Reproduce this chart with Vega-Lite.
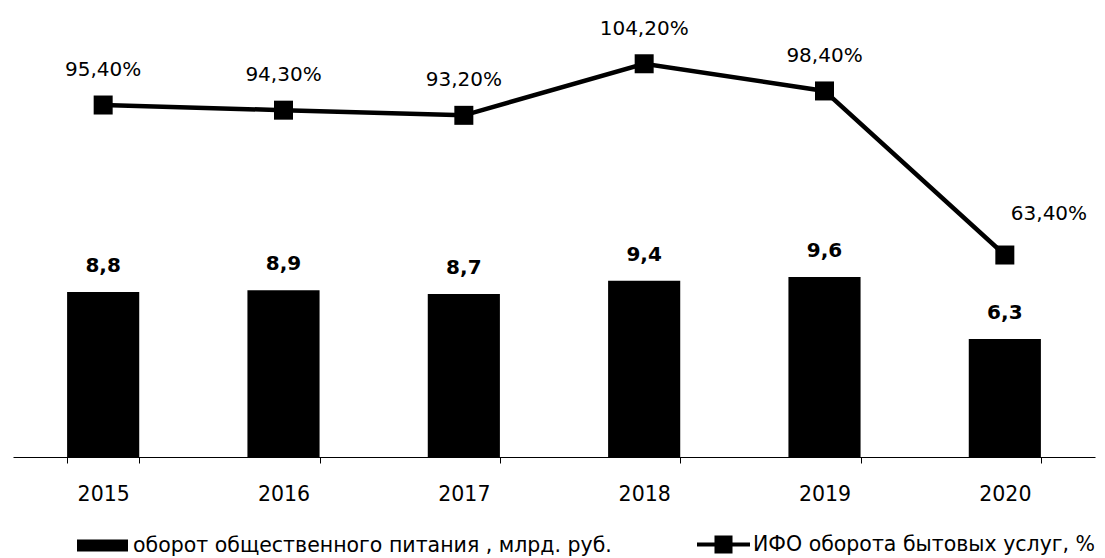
{
  "$schema": "https://vega.github.io/schema/vega-lite/v6.json",
  "width": 1082,
  "height": 447,
  "autosize": "none",
  "padding": {"left": 13, "top": 10, "right": 10, "bottom": 101},
  "background": "white",
  "config": {
    "view": {"stroke": null},
    "font": "DejaVu Sans",
    "locale": {
      "number": {"decimal": ",", "thousands": " ", "grouping": [3], "currency": ["", " ₽"]}
    }
  },
  "data": {
    "values": [
      {"year": "2015", "turnover": 8.8, "ifo": 0.954},
      {"year": "2016", "turnover": 8.9, "ifo": 0.943},
      {"year": "2017", "turnover": 8.7, "ifo": 0.932},
      {"year": "2018", "turnover": 9.4, "ifo": 1.042},
      {"year": "2019", "turnover": 9.6, "ifo": 0.984},
      {"year": "2020", "turnover": 6.3, "ifo": 0.634}
    ]
  },
  "encoding": {
    "x": {
      "field": "year",
      "type": "ordinal",
      "scale": {"paddingInner": 0.6, "paddingOuter": 0.3},
      "axis": {
        "title": null,
        "labelAngle": 0,
        "labelFontSize": 20.5,
        "labelColor": "black",
        "labelPadding": 21,
        "labelFont": "DejaVu Sans",
        "tickBand": "extent",
        "tickSize": 6,
        "tickColor": "black",
        "domainColor": "black",
        "domainWidth": 1
      }
    }
  },
  "layer": [
    {
      "mark": {"type": "bar"},
      "encoding": {
        "y": {"field": "turnover", "type": "quantitative", "scale": {"domain": [0, 23.84]}, "axis": null},
        "fill": {
          "datum": "оборот общественного питания , млрд. руб.",
          "scale": {"range": ["black"]},
          "legend": {
            "title": null,
            "orient": "none",
            "legendX": 64,
            "legendY": 510,
            "padding": 0,
            "symbolType": "M-1,-0.235H1V0.235H-1Z",
            "symbolSize": 2601,
            "symbolStrokeWidth": 0,
            "labelFontSize": 20.5,
            "labelFont": "DejaVu Sans",
            "labelColor": "black",
            "labelOffset": 5,
            "labelLimit": 1000
          }
        }
      }
    },
    {
      "mark": {"type": "text", "dy": -26, "fontSize": 20, "fontWeight": "bold", "color": "black", "font": "DejaVu Sans"},
      "encoding": {
        "y": {"field": "turnover", "type": "quantitative", "scale": {"domain": [0, 23.84]}, "axis": null},
        "text": {"field": "turnover", "type": "quantitative", "format": ".1f"}
      }
    },
    {
      "layer": [
        {
          "mark": {"type": "line", "strokeWidth": 4.5},
          "encoding": {
            "y": {"field": "ifo", "type": "quantitative", "scale": {"domain": [0.2031, 1.1567]}, "axis": null},
            "stroke": {
              "datum": "ИФО оборота бытовых услуг, %",
              "scale": {"range": ["black"]},
              "legend": {
                "title": null,
                "orient": "none",
                "legendX": 684,
                "legendY": 508,
                "padding": 0,
                "symbolType": "M-1,-0.075H1V0.075H-1Z M-0.34,-0.34H0.34V0.34H-0.34Z",
                "symbolSize": 2809,
                "symbolFillColor": "black",
                "symbolStrokeWidth": 0,
                "labelFontSize": 20.5,
                "labelFont": "DejaVu Sans",
                "labelColor": "black",
                "labelOffset": 3,
                "labelLimit": 1000
              }
            }
          }
        },
        {
          "mark": {"type": "point", "shape": "square", "filled": true, "size": 361, "color": "black", "opacity": 1},
          "encoding": {
            "y": {"field": "ifo", "type": "quantitative", "scale": {"domain": [0.2031, 1.1567]}, "axis": null}
          }
        },
        {
          "transform": [{"filter": "datum.year != '2020'"}],
          "mark": {"type": "text", "dy": -35, "fontSize": 20, "color": "black", "font": "DejaVu Sans"},
          "encoding": {
            "y": {"field": "ifo", "type": "quantitative", "scale": {"domain": [0.2031, 1.1567]}, "axis": null},
            "text": {"field": "ifo", "type": "quantitative", "format": ".2%"}
          }
        },
        {
          "transform": [{"filter": "datum.year == '2020'"}],
          "mark": {"type": "text", "align": "left", "dx": 6, "dy": -41, "fontSize": 20, "color": "black", "font": "DejaVu Sans"},
          "encoding": {
            "y": {"field": "ifo", "type": "quantitative", "scale": {"domain": [0.2031, 1.1567]}, "axis": null},
            "text": {"field": "ifo", "type": "quantitative", "format": ".2%"}
          }
        }
      ]
    }
  ],
  "resolve": {"scale": {"y": "independent"}}
}
